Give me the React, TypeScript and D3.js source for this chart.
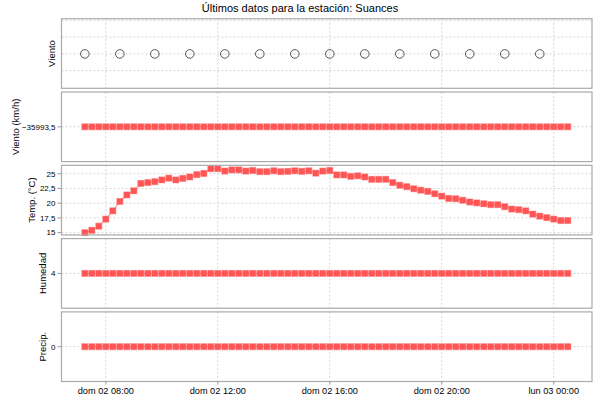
import * as d3 from 'd3';

// station readings, one every 15 minutes starting at 07:15
const startTime = '2025-02-02T07:15:00Z';
const stepMinutes = 15;

const temps = [
  15.0, 15.4, 16.1, 17.3, 18.7, 20.3, 21.4, 22.1, 23.35, 23.5,
  23.65, 23.95, 24.25, 23.95, 24.2, 24.45, 24.85, 25.05, 25.85, 25.85,
  25.45, 25.65, 25.65, 25.45, 25.55, 25.35, 25.35, 25.5, 25.35, 25.4,
  25.5, 25.4, 25.5, 25.1, 25.45, 25.55, 24.8, 24.8, 24.55, 24.65,
  24.45, 24.05, 24.05, 24.05, 23.5, 23.05, 22.8, 22.45, 22.2, 22.0,
  21.6, 21.2, 20.8, 20.75, 20.5, 20.2, 20.05, 19.9, 19.75, 19.75,
  19.4, 19.0, 18.9, 18.7, 18.15, 17.8, 17.55, 17.3, 17.05, 17.05,
];

const windSpeed = [
  -35993.5, -35993.5, -35993.5, -35993.5, -35993.5, -35993.5, -35993.5, -35993.5, -35993.5, -35993.5,
  -35993.5, -35993.5, -35993.5, -35993.5, -35993.5, -35993.5, -35993.5, -35993.5, -35993.5, -35993.5,
  -35993.5, -35993.5, -35993.5, -35993.5, -35993.5, -35993.5, -35993.5, -35993.5, -35993.5, -35993.5,
  -35993.5, -35993.5, -35993.5, -35993.5, -35993.5, -35993.5, -35993.5, -35993.5, -35993.5, -35993.5,
  -35993.5, -35993.5, -35993.5, -35993.5, -35993.5, -35993.5, -35993.5, -35993.5, -35993.5, -35993.5,
  -35993.5, -35993.5, -35993.5, -35993.5, -35993.5, -35993.5, -35993.5, -35993.5, -35993.5, -35993.5,
  -35993.5, -35993.5, -35993.5, -35993.5, -35993.5, -35993.5, -35993.5, -35993.5, -35993.5, -35993.5,
];

const humidity = [
  4, 4, 4, 4, 4, 4, 4, 4, 4, 4, 4, 4, 4, 4, 4, 4, 4, 4, 4, 4,
  4, 4, 4, 4, 4, 4, 4, 4, 4, 4, 4, 4, 4, 4, 4, 4, 4, 4, 4, 4,
  4, 4, 4, 4, 4, 4, 4, 4, 4, 4, 4, 4, 4, 4, 4, 4, 4, 4, 4, 4,
  4, 4, 4, 4, 4, 4, 4, 4, 4, 4,
];

const precip = [
  0, 0, 0, 0, 0, 0, 0, 0, 0, 0, 0, 0, 0, 0, 0, 0, 0, 0, 0, 0,
  0, 0, 0, 0, 0, 0, 0, 0, 0, 0, 0, 0, 0, 0, 0, 0, 0, 0, 0, 0,
  0, 0, 0, 0, 0, 0, 0, 0, 0, 0, 0, 0, 0, 0, 0, 0, 0, 0, 0, 0,
  0, 0, 0, 0, 0, 0, 0, 0, 0, 0,
];

// wind direction markers (calm -> drawn as empty circles)
const windDirTimes = [
  '2025-02-02T07:15:00Z', '2025-02-02T08:30:00Z', '2025-02-02T09:45:00Z', '2025-02-02T11:00:00Z',
  '2025-02-02T12:15:00Z', '2025-02-02T13:30:00Z', '2025-02-02T14:45:00Z', '2025-02-02T16:00:00Z',
  '2025-02-02T17:15:00Z', '2025-02-02T18:30:00Z', '2025-02-02T19:45:00Z', '2025-02-02T21:00:00Z',
  '2025-02-02T22:15:00Z', '2025-02-02T23:30:00Z',
];
const windDirValues = [0, 0, 0, 0, 0, 0, 0, 0, 0, 0, 0, 0, 0, 0];

const xDomain = ['2025-02-02T06:25:00Z', '2025-02-03T01:22:00Z'];
const tempTicks = [15, 17.5, 20, 22.5, 25];

const title = 'Últimos datos para la estación: Suances';

const es = d3.timeFormatLocale({
  dateTime: '%A, %e de %B de %Y, %X',
  date: '%d/%m/%Y',
  time: '%H:%M:%S',
  periods: ['AM', 'PM'],
  days: ['domingo', 'lunes', 'martes', 'miércoles', 'jueves', 'viernes', 'sábado'],
  shortDays: ['dom', 'lun', 'mar', 'mié', 'jue', 'vie', 'sáb'],
  months: ['enero', 'febrero', 'marzo', 'abril', 'mayo', 'junio', 'julio', 'agosto', 'septiembre', 'octubre', 'noviembre', 'diciembre'],
  shortMonths: ['ene', 'feb', 'mar', 'abr', 'may', 'jun', 'jul', 'ago', 'sep', 'oct', 'nov', 'dic'],
});
const numFmt = d3.formatLocale({ decimal: ',', thousands: '.', grouping: [3], currency: ['', ' €'] });
const fmtNum = numFmt.format('~f');
const fmtTime = es.utcFormat('%a %d %H:%M');

const FONT = '"Liberation Sans", Arial, sans-serif';
const RED = '#ff5555';
const GRID = '#d6d6d6';
const BORDER = '#aaaaaa';

const left = 61.5;
const right = 592;
const panelTop0 = 18.7;
const panelStep = 73.3;
const panelH = 69.6;

interface Panel {
  label: string;
  labelX: number;
  domain: [number, number];
  ticks: number[];
  showTickLabels: boolean;
  values?: number[];
}

const panels: Panel[] = [
  { label: 'Viento', labelX: 52, domain: [-2.05, 2.1], ticks: [-1, 0, 1, 2], showTickLabels: false },
  { label: 'Viento (km/h)', labelX: 15.5, domain: [-35994.5, -35992.5], ticks: [-35993.5], showTickLabels: true, values: windSpeed },
  { label: 'Temp. (°C)', labelX: 31.5, domain: [14.62, 26.43], ticks: tempTicks, showTickLabels: true, values: temps },
  { label: 'Humedad', labelX: 43, domain: [3, 5], ticks: [4], showTickLabels: true, values: humidity },
  { label: 'Precip.', labelX: 43, domain: [-1, 1], ticks: [0], showTickLabels: true, values: precip },
];

export default function App() {
  const t0 = new Date(startTime).getTime();
  const times = temps.map((_, i) => new Date(t0 + i * stepMinutes * 60000));

  const x = d3
    .scaleUtc()
    .domain(xDomain.map((d) => new Date(d)) as [Date, Date])
    .range([left, right]);
  const xTicks = x.ticks(d3.utcHour.every(4)!);

  const lastBottom = panelTop0 + 4 * panelStep + panelH;

  return (
    <svg
      width={600}
      height={400}
      style={{ position: 'absolute', left: 0, top: 0, background: '#fff' }}
      fontFamily={FONT}
    >
      <text x={300} y={11.5} textAnchor="middle" fontSize={11} fill="#000">
        {title}
      </text>

      {panels.map((p, pi) => {
        const top = panelTop0 + pi * panelStep;
        const y = d3.scaleLinear().domain(p.domain).range([top + panelH, top]);
        const line = d3
          .line<number>()
          .x((_, i) => x(times[i]))
          .y((d) => y(d));
        return (
          <g key={p.label}>
            <rect x={left} y={top} width={right - left} height={panelH} fill="#fff" />
            {xTicks.map((t) => (
              <line
                key={+t}
                x1={x(t)}
                x2={x(t)}
                y1={top}
                y2={top + panelH}
                stroke={GRID}
                strokeDasharray="2,2"
              />
            ))}
            {p.ticks.map((v) => (
              <g key={v}>
                <line x1={left} x2={right} y1={y(v)} y2={y(v)} stroke={GRID} strokeDasharray="2,2" />
                {p.showTickLabels && (
                  <>
                    <line x1={left - 4} x2={left} y1={y(v)} y2={y(v)} stroke="#999" />
                    <text x={55.5} y={y(v)} dy="0.35em" textAnchor="end" fontSize={8} fill="#000">
                      {fmtNum(v)}
                    </text>
                  </>
                )}
              </g>
            ))}
            {p.values && (
              <>
                <path d={line(p.values) ?? ''} fill="none" stroke={RED} strokeOpacity={0.8} strokeWidth={1} />
                {p.values.map((v, i) => (
                  <rect
                    key={i}
                    x={x(times[i]) - 3}
                    y={y(v) - 3}
                    width={6}
                    height={6}
                    fill={RED}
                    stroke={RED}
                    strokeOpacity={0.45}
                    strokeWidth={1}
                  />
                ))}
              </>
            )}
            {!p.values &&
              windDirTimes.map((t, i) => (
                <circle
                  key={t}
                  cx={x(new Date(t))}
                  cy={y(windDirValues[i])}
                  r={4.3}
                  fill="none"
                  stroke="#555"
                  strokeWidth={1}
                />
              ))}
            <rect x={left} y={top} width={right - left} height={panelH} fill="none" stroke={BORDER} strokeWidth={1.2} />
            <text
              transform={`translate(${p.labelX},${top + panelH / 2}) rotate(-90)`}
              textAnchor="middle"
              dy="0.35em"
              fontSize={9.5}
              fill="#000"
            >
              {p.label}
            </text>
          </g>
        );
      })}

      {xTicks.map((t) => (
        <g key={+t}>
          <line x1={x(t)} x2={x(t)} y1={lastBottom} y2={lastBottom + 3} stroke="#999" />
          <text x={x(t)} y={394} textAnchor="middle" fontSize={9.2} fill="#000">
            {fmtTime(t)}
          </text>
        </g>
      ))}
    </svg>
  );
}
